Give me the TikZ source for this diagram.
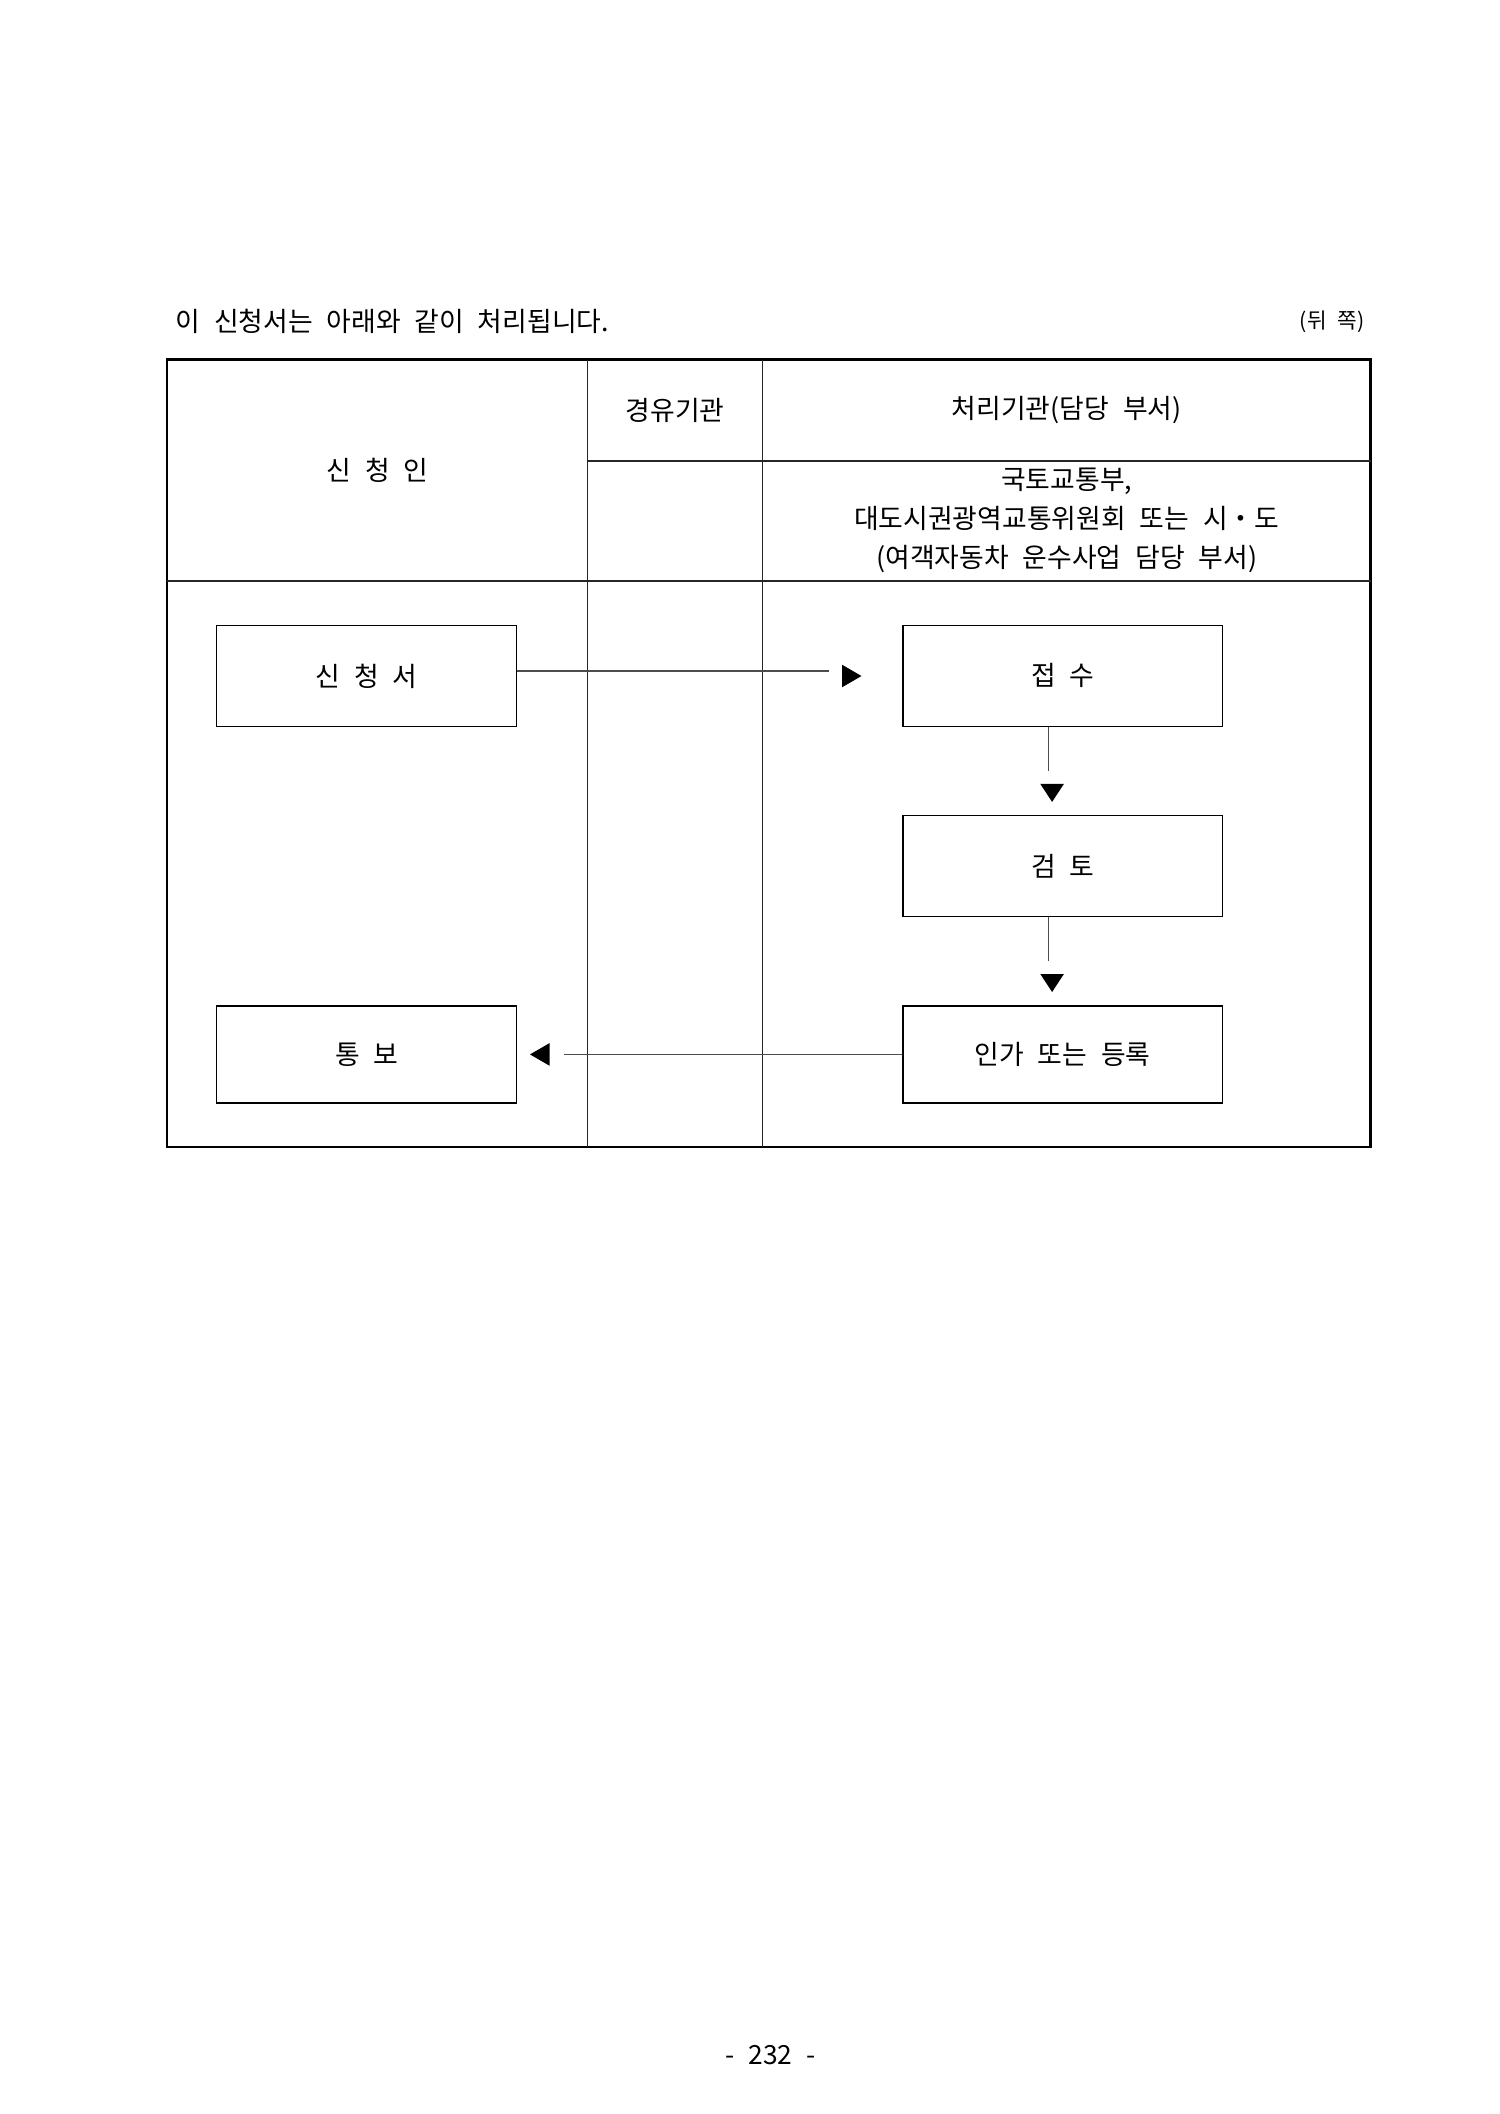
\documentclass[tikz,border=0pt]{standalone}
\usepackage{fontspec}
\setmainfont{Noto Sans CJK KR}[WordSpace=2.3]
\begin{document}
\begin{tikzpicture}[x=0.14mm,y=-0.14mm,
  lbl/.style={inner sep=0pt, font=\fontsize{10.7pt}{15.5pt}\selectfont},
  small/.style={inner sep=0pt, font=\fontsize{8.5pt}{10pt}\selectfont},
  frame/.style={line width=1.1pt},
  gridline/.style={line width=0.5pt, black!85},
  box/.style={draw, line width=0.5pt, inner sep=0pt, font=\fontsize{10.7pt}{12pt}\selectfont},
  conn/.style={line width=0.55pt, black!70},
  tri/.style={fill=black}]
\useasboundingbox (0,0) rectangle (1500,2114);

% title line
\node[lbl, anchor=west] (title) at (175,321) {이 신청서는 아래와 같이 처리됩니다.};
\node[small, anchor=east] (back) at (1365,322) {(뒤 쪽)};

% table
\draw[frame] (167.1,359.8) rectangle (1370.6,1146.9);
\draw[gridline] (587.6,359.8) -- (587.6,1146.9);
\draw[gridline] (762.8,359.8) -- (762.8,1146.9);
\draw[gridline] (587.6,460.9) -- (1370.6,460.9);
\draw[gridline] (167.1,580.9) -- (1370.6,580.9);

% headers
\node[lbl] (h1) at (377.4,470.5) {신 청 인};
\node[lbl] (h2) at (675.2,410) {경유기관};
\node[lbl] (h3) at (1066.7,410) {처리기관(담당 부서)};
\node[lbl, align=center] (h4) at (1066.7,520.5) {국토교통부,\\대도시권광역교통위원회 또는 시・도\\(여객자동차 운수사업 담당 부서)};

% boxes
\node[box, minimum width=299.7*0.14mm, minimum height=101.1*0.14mm] (s) at (366.7,675.9) {신 청 서};
\node[box, minimum width=319.4*0.14mm, minimum height=101.1*0.14mm] (r) at (1062.7,675.9) {접 수};
\node[box, minimum width=319.4*0.14mm, minimum height=101.0*0.14mm] (v) at (1062.7,865.9) {검 토};
\node[box, minimum width=319.4*0.14mm, minimum height=97*0.14mm] (p) at (1062.7,1054.4) {인가 또는 등록};
\node[box, minimum width=299.7*0.14mm, minimum height=97*0.14mm] (n) at (366.7,1054.4) {통 보};

% connector 1: 신청서 -> 접수
\coordinate (e1) at (829,671);
\draw[conn] (s.east |- e1) -- (e1);
\coordinate (t1) at (842,676);
\fill[tri] ([shift={(0,-11.3)}]t1) -- ++(19.5,11.3) -- ++(-19.5,11.3) -- cycle;

% connector 2: 접수 -> 검토
\coordinate (e2) at (1048.5,770.7);
\draw[conn] (e2 |- r.south) -- (e2);
\coordinate (t2) at (1040.3,783.9);
\fill[tri] (t2) -- ++(23.6,0) -- ++(-11.8,18) -- cycle;

% connector 3: 검토 -> 인가 또는 등록
\coordinate (e3) at (1048.5,960.8);
\draw[conn] (e3 |- v.south) -- (e3);
\coordinate (t3) at (1040.3,974);
\fill[tri] (t3) -- ++(23.6,0) -- ++(-11.8,18) -- cycle;

% connector 4: 인가 또는 등록 -> 통보
\coordinate (e4) at (563.6,1054.4);
\draw[conn] (p.west) -- (e4);
\coordinate (t4) at (530,1054.4);
\fill[tri] (t4) -- ++(19.5,-11.3) -- ++(0,22.6) -- cycle;

% page number
\node[inner sep=0pt, font=\fontsize{10.5pt}{12pt}\selectfont] (pg) at (770.5,2055) {- 232 -};
\end{tikzpicture}
\end{document}
